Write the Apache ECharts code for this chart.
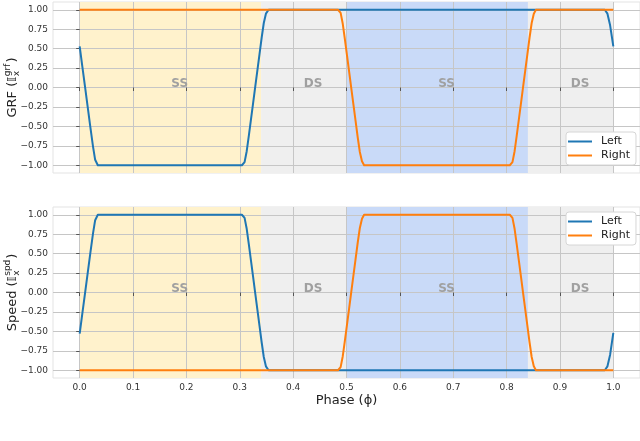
<!DOCTYPE html>
<html>
<head>
<meta charset="utf-8">
<script src="https://cdn.jsdelivr.net/npm/echarts@6/dist/echarts.min.js"></script>
<style>html,body{margin:0;padding:0;background:#fff;}#c{width:640px;height:441px;}</style>
</head>
<body>
<div id="c"></div>
<script>
// ---- data ----
const xTicks = [0, 0.1, 0.2, 0.3, 0.4, 0.5, 0.6, 0.7, 0.8, 0.9, 1.0];
const xTickLabels = ['0.0','0.1','0.2','0.3','0.4','0.5','0.6','0.7','0.8','0.9','1.0'];
const yTicks = [-1, -0.75, -0.5, -0.25, 0, 0.25, 0.5, 0.75, 1];
const yTickLabels = ['\u22121.00','\u22120.75','\u22120.50','\u22120.25','0.00','0.25','0.50','0.75','1.00'];

const phaseBounds = [0, 0.34, 0.5, 0.84, 1.0];
const phaseLabels = ['SS', 'DS', 'SS', 'DS'];
const phaseLabelAt = [0.1875, 0.4375, 0.6875, 0.9375];
const phaseLabelLevel = 0.05;

const leftPhase = [0, 0.005, 0.010, 0.015, 0.020, 0.025, 0.029, 0.034,
  0.100, 0.200, 0.304,
  0.309, 0.313, 0.317, 0.321, 0.325, 0.329, 0.333, 0.337, 0.341, 0.345, 0.349, 0.354,
  0.500, 0.700, 0.900, 0.984, 0.989, 0.994, 1.000];
const grfLeft = [0.53, 0.27, 0.01, -0.25, -0.51, -0.76, -0.93, -1.00,
  -1.00, -1.00, -1.00,
  -0.96, -0.82, -0.62, -0.41, -0.20, 0.01, 0.22, 0.43, 0.64, 0.83, 0.95, 1.00,
  1.00, 1.00, 1.00, 1.00, 0.95, 0.80, 0.53];
const speedLeft = [-0.53, -0.27, -0.01, 0.25, 0.51, 0.76, 0.93, 1.00,
  1.00, 1.00, 1.00,
  0.96, 0.82, 0.62, 0.41, 0.20, -0.01, -0.22, -0.43, -0.64, -0.83, -0.95, -1.00,
  -1.00, -1.00, -1.00, -1.00, -0.95, -0.80, -0.52];

const rightPhase = [0, 0.200, 0.400, 0.484,
  0.489, 0.493, 0.497, 0.501, 0.505, 0.509, 0.513, 0.517, 0.521, 0.525, 0.529, 0.533,
  0.600, 0.700, 0.806,
  0.811, 0.815, 0.819, 0.823, 0.827, 0.831, 0.835, 0.839, 0.843, 0.847, 0.851, 0.855,
  0.900, 1.000];
const grfRight = [1, 1, 1, 1,
  0.96, 0.82, 0.62, 0.41, 0.20, -0.01, -0.22, -0.43, -0.64, -0.83, -0.95, -1,
  -1, -1, -1,
  -0.96, -0.82, -0.62, -0.41, -0.20, 0.01, 0.22, 0.43, 0.64, 0.83, 0.95, 1,
  1, 1];
const speedRight = [-1, -1, -1, -1,
  -0.96, -0.82, -0.62, -0.41, -0.20, 0.01, 0.22, 0.43, 0.64, 0.83, 0.95, 1,
  1, 1, 1,
  0.96, 0.82, 0.62, 0.41, 0.20, -0.01, -0.22, -0.43, -0.64, -0.83, -0.95, -1,
  -1, -1];

// ---- styles ----
const FONT = 'DejaVu Sans';
const shadeColors = ['#fff2cc', '#efefef', '#c9daf8', '#efefef'];
const BLUE = '#1f77b4', ORANGE = '#ff7f0e';

function zip(xs, ys) { return xs.map((x, i) => [x, ys[i]]); }
function labelFor(ticks, labels) {
  return v => { const i = ticks.findIndex(t => Math.abs(t - v) < 1e-9); return i >= 0 ? labels[i] : ''; };
}

const grids = [
  { left: 53, right: 0, top: 2, height: 171 },
  { left: 53, right: 0, top: 207, height: 171 }
].map(g => Object.assign(g, { show: true, borderColor: '#e3e3e3', borderWidth: 1, backgroundColor: '#ffffff' }));

function xAxis(i) {
  return {
    gridIndex: i, type: 'value', min: -0.05, max: 1.05, z: 3,
    axisLine: { show: false },
    axisTick: { show: true, customValues: xTicks, length: 3.5, lineStyle: { color: '#555', width: 1 } },
    axisLabel: { show: i === 1, customValues: xTicks, formatter: labelFor(xTicks, xTickLabels),
      fontFamily: FONT, fontSize: 9, color: '#333', margin: 5 },
    splitLine: { show: true, lineStyle: { color: '#c6c6c6', width: 1 } },
    name: i === 1 ? 'Phase (\u03d5)' : '', nameLocation: 'middle', nameGap: 16,
    nameTextStyle: { fontFamily: FONT, fontSize: 13, color: '#222' }
  };
}
function yAxis(i) {
  return {
    gridIndex: i, type: 'value', min: -1.1, max: 1.1, z: 3,
    axisLine: { show: false },
    axisTick: { show: true, customValues: yTicks, length: 3.5, lineStyle: { color: '#555', width: 1 } },
    axisLabel: { customValues: yTicks, formatter: labelFor(yTicks, yTickLabels),
      fontFamily: FONT, fontSize: 9, color: '#333', margin: 5 },
    splitLine: { show: true, lineStyle: { color: '#c6c6c6', width: 1 } }
  };
}

function shadeSeries(i) {
  const areas = [], points = [];
  for (let k = 0; k < phaseLabels.length; k++) {
    areas.push([
      { xAxis: phaseBounds[k], itemStyle: { color: shadeColors[k] } },
      { xAxis: phaseBounds[k + 1] }
    ]);
    points.push({ name: phaseLabels[k], coord: [phaseLabelAt[k], phaseLabelLevel] });
  }
  return {
    type: 'line', xAxisIndex: i, yAxisIndex: i, data: [], z: 1, silent: true,
    markArea: { silent: true, label: { show: false }, data: areas },
    markPoint: {
      silent: true, symbol: 'circle', symbolSize: 1, itemStyle: { color: 'rgba(0,0,0,0)' },
      label: { show: true, position: 'inside', formatter: '{b}', fontFamily: FONT, fontSize: 12,
        fontWeight: 'bold', color: '#a0a0a0' },
      data: points
    }
  };
}
function lineSeries(i, name, xs, ys, color) {
  return {
    name: name, type: 'line', xAxisIndex: i, yAxisIndex: i, data: zip(xs, ys),
    showSymbol: false, symbol: 'none', z: 5, animation: false, sampling: null,
    lineStyle: { color: color, width: 2, join: 'round' }, itemStyle: { color: color }
  };
}

function legend(top) {
  return {
    data: ['Left', 'Right'], orient: 'vertical', left: 566, top: top,
    icon: 'rect', itemWidth: 24, itemHeight: 2, itemGap: 3,
    padding: [4, 6, 4, 2],
    backgroundColor: '#ffffff', borderColor: '#d6d6d6', borderWidth: 1, borderRadius: 3,
    textStyle: { fontFamily: FONT, fontSize: 11, color: '#222', padding: [0, 0, 0, 4] },
    selectedMode: false
  };
}

// y-axis names built from text pieces (super/subscript)
const measureCtx = document.createElement('canvas').getContext('2d');
function tw(t, size) { measureCtx.font = size + 'px "' + FONT + '"'; return measureCtx.measureText(t).width; }
function mathName(main, sup, sub, cx, cy) {
  const S = 13, s = 9;
  const head = main + ' (\u{1D540}';
  const w1 = tw(head, S);
  const w2 = Math.max(tw(sup, s), tw(sub, s));
  const w3 = tw(')', S);
  const total = w1 + w2 + 1.5 + w3;
  const x0 = -total / 2;
  const st = (size) => ({ fontFamily: FONT, fontSize: size, fill: '#222', verticalAlign: 'middle', align: 'left' });
  return {
    type: 'group', x: cx, y: cy, rotation: Math.PI / 2,
    children: [
      { type: 'text', x: x0, y: 0, style: Object.assign({ text: head }, st(S)) },
      { type: 'text', x: x0 + w1 + 0.5, y: -5, style: Object.assign({ text: sup }, st(s)) },
      { type: 'text', x: x0 + w1 + 0.5, y: 4, style: Object.assign({ text: sub }, st(s)) },
      { type: 'text', x: x0 + w1 + w2 + 1.5, y: 0, style: Object.assign({ text: ')' }, st(S)) }
    ]
  };
}

const chart = echarts.init(document.getElementById('c'), null, { renderer: 'canvas' });
chart.setOption({
  animation: false,
  textStyle: { fontFamily: FONT },
  grid: grids,
  xAxis: [xAxis(0), xAxis(1)],
  yAxis: [yAxis(0), yAxis(1)],
  legend: [legend(132), legend(212)],
  graphic: [mathName('GRF', 'grf', 'x', 13, 87.5), mathName('Speed', 'spd', 'x', 13, 292.5)],
  series: [
    shadeSeries(0), shadeSeries(1),
    lineSeries(0, 'Left', leftPhase, grfLeft, BLUE),
    lineSeries(0, 'Right', rightPhase, grfRight, ORANGE),
    lineSeries(1, 'Left', leftPhase, speedLeft, BLUE),
    lineSeries(1, 'Right', rightPhase, speedRight, ORANGE)
  ]
});
</script>
</body>
</html>
